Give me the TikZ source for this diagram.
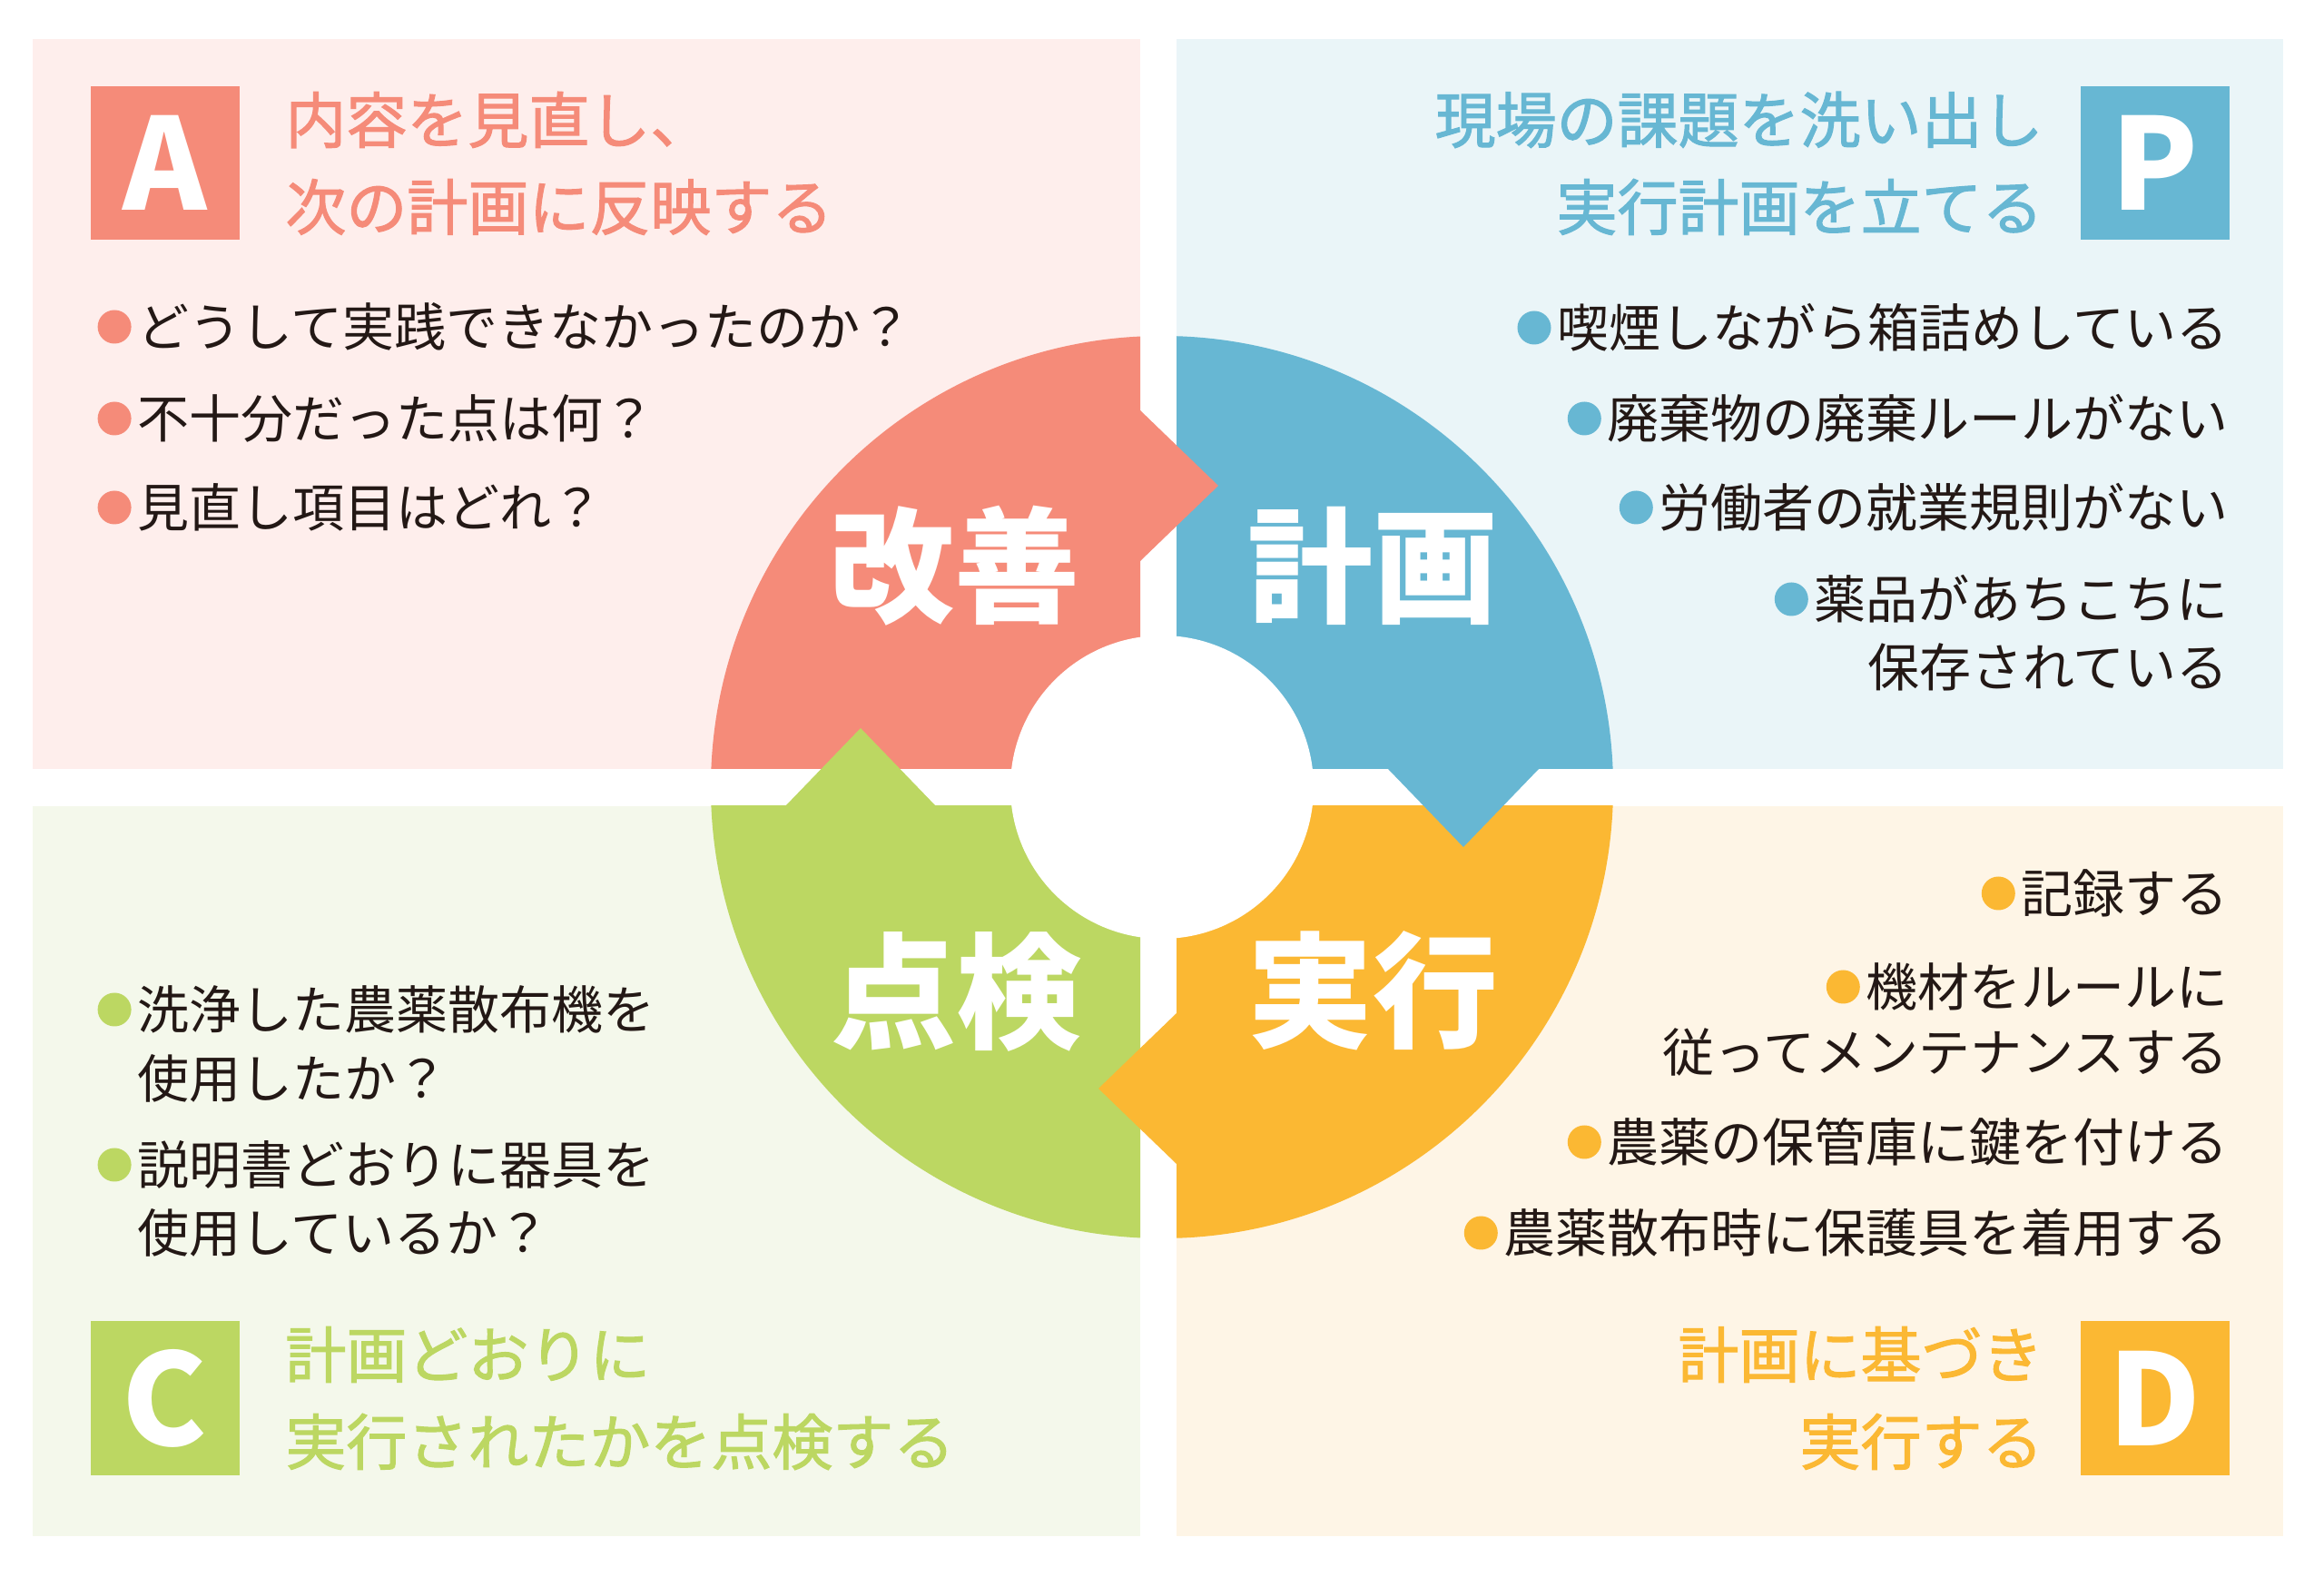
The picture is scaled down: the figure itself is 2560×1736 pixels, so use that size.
\documentclass[tikz,border=0pt]{standalone}
\usepackage{fontspec}
\setmainfont{Noto Sans CJK JP}
\newfontfamily\ttlfont[FakeBold=1.6]{Noto Sans CJK JP}
\usetikzlibrary{positioning}

\definecolor{aRed}{HTML}{F58B79}
\definecolor{pBlue}{HTML}{67B7D3}
\definecolor{cGreen}{HTML}{BCD762}
\definecolor{dOrange}{HTML}{FBB833}
\definecolor{aBg}{HTML}{FEEEEC}
\definecolor{pBg}{HTML}{EAF5F8}
\definecolor{cBg}{HTML}{F4F8EB}
\definecolor{dBg}{HTML}{FEF5E6}
\definecolor{ink}{HTML}{231815}

\begin{document}
\begin{tikzpicture}[x=0.5pt,y=0.5pt,
    txt/.style={inner sep=0pt, text=ink, font=\fontsize{28.5pt}{34pt}\selectfont},
    ttl/.style={inner sep=0pt, text=#1, font=\ttlfont\fontsize{33.5pt}{40pt}\selectfont},
    big/.style={inner sep=0pt, text=white, font=\bfseries\fontsize{69pt}{80pt}\selectfont},
    lett/.style={fill=#1, text=white, minimum width=82pt, minimum height=84.5pt, inner sep=0pt, font=\bfseries\fontsize{70pt}{80pt}\selectfont},
    bul/.style={circle, fill=#1, minimum size=18.5pt, inner sep=0pt}]
    \fill[white] (0,0) rectangle (2560,1736);
    \useasboundingbox (0,0) rectangle (2560,1736);

    \fill[aBg] (36,889) rectangle (1256,1693);
    \fill[pBg] (1296,889) rectangle (2515,1693);
    \fill[cBg] (36,44) rectangle (1256,848);
    \fill[dBg] (1296,44) rectangle (2515,848);

    % ring
    \coordinate (o) at (1280,869);
    \begin{scope}
        \clip (36,889) rectangle (1256,1693);
        \fill[aRed] (o) circle (497);
    \end{scope}
    \begin{scope}
        \clip (1296,889) rectangle (2515,1693);
        \fill[pBlue] (o) circle (497);
    \end{scope}
    \begin{scope}
        \clip (36,44) rectangle (1256,848);
        \fill[cGreen] (o) circle (497);
    \end{scope}
    \begin{scope}
        \clip (1296,44) rectangle (2515,848);
        \fill[dOrange] (o) circle (497);
    \end{scope}
    \fill[white] (o) circle (167);

    % arrow tips
    \fill[aRed] (1240,1284) -- (1256,1284) -- (1342,1201) -- (1256,1118) -- (1240,1118) -- cycle;
    \fill[pBlue] (1529,905) -- (1529,889) -- (1612,803) -- (1695,889) -- (1695,905) -- cycle;
    \fill[dOrange] (1312,620) -- (1296,620) -- (1210,537) -- (1296,454) -- (1312,454) -- cycle;
    \fill[cGreen] (865,832) -- (865,848) -- (948,934) -- (1031,848) -- (1031,832) -- cycle;

    \node[big] (kaizen) at (1051,1113) {改善};
    \node[big] (keikaku) at (1512,1113) {計画};
    \node[big] (tenken) at (1053,644) {点検};
    \node[big] (jikko) at (1512,645) {実行};

    % A
    \node[lett=aRed] (boxA) at (181.5,1556.5) {A};
    \node[ttl=aRed, anchor=west] (ta1) at (314,1604) {内容を見直し、};
    \node[ttl=aRed, anchor=west] (ta2) at (314,1508) {次の計画に反映する};
    \node[txt, anchor=west] (a1) at (151,1376) {どうして実践できなかったのか？};
    \node[txt, anchor=west] (a2) at (151,1275) {不十分だった点は何？};
    \node[txt, anchor=west] (a3) at (151,1177) {見直し項目はどれ？};
    \node[bul=aRed, left=3pt of a1] (da1) {};
    \node[bul=aRed, left=3pt of a2] (da2) {};
    \node[bul=aRed, left=3pt of a3] (da3) {};

    % P
    \node[lett=pBlue] (boxP) at (2374,1556.5) {P};
    \node[ttl=pBlue, anchor=east] (tp1) at (2251,1604) {現場の課題を洗い出し};
    \node[ttl=pBlue, anchor=east] (tp2) at (2251,1508) {実行計画を立てる};
    \node[txt, anchor=east] (p1) at (2455,1375) {喫煙しながら箱詰めしている};
    \node[txt, anchor=east] (p2) at (2455,1275) {廃棄物の廃棄ルールがない};
    \node[txt, anchor=east] (p3) at (2455,1177) {労働者の就業規則がない};
    \node[txt, anchor=east] (p4) at (2455,1076) {薬品があちこちに};
    \node[txt, anchor=east] (p4b) at (2455,1001) {保存されている};
    \node[bul=pBlue, left=3pt of p1] (dp1) {};
    \node[bul=pBlue, left=3pt of p2] (dp2) {};
    \node[bul=pBlue, left=3pt of p3] (dp3) {};
    \node[bul=pBlue, left=3pt of p4] (dp4) {};

    % C
    \node[lett=cGreen] (boxC) at (181.5,196) {C};
    \node[ttl=cGreen, anchor=west] (tc1) at (314,244) {計画どおりに};
    \node[ttl=cGreen, anchor=west] (tc2) at (314,148) {実行されたかを点検する};
    \node[txt, anchor=west] (c1) at (151,624) {洗浄した農薬散布機を};
    \node[txt, anchor=west] (c1b) at (151,548) {使用したか？};
    \node[txt, anchor=west] (c2) at (151,453) {説明書どおりに器具を};
    \node[txt, anchor=west] (c2b) at (151,378) {使用しているか？};
    \node[bul=cGreen, left=3pt of c1] (dc1) {};
    \node[bul=cGreen, left=3pt of c2] (dc2) {};

    % D
    \node[lett=dOrange] (boxD) at (2374,196) {D};
    \node[ttl=dOrange, anchor=east] (td1) at (2251,244) {計画に基づき};
    \node[ttl=dOrange, anchor=east] (td2) at (2251,148) {実行する};
    \node[txt, anchor=east] (d1) at (2455,752) {記録する};
    \node[txt, anchor=east] (d2) at (2455,649) {機材をルールに};
    \node[txt, anchor=east] (d2b) at (2455,577) {従ってメンテナンスする};
    \node[txt, anchor=east] (d3) at (2455,478) {農薬の保管庫に鍵を付ける};
    \node[txt, anchor=east] (d4) at (2455,378) {農薬散布時に保護具を着用する};
    \node[bul=dOrange, left=3pt of d1] (dd1) {};
    \node[bul=dOrange, left=3pt of d2] (dd2) {};
    \node[bul=dOrange, left=3pt of d3] (dd3) {};
    \node[bul=dOrange, left=3pt of d4] (dd4) {};
\end{tikzpicture}
\end{document}
